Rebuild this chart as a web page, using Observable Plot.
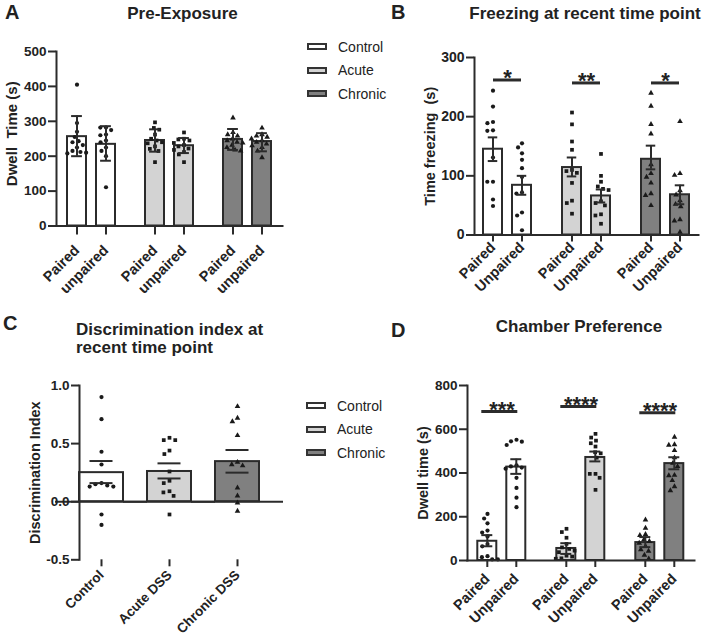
<!DOCTYPE html>
<html>
<head>
<meta charset="utf-8">
<script src="https://cdn.jsdelivr.net/npm/d3@7"></script>
<script src="https://cdn.jsdelivr.net/npm/@observablehq/plot@0.6"></script>
<style>
  body { margin: 0; background: #fff; font-family: "Liberation Sans", Arial, sans-serif; color: #222; }
  #fig { position: relative; width: 705px; height: 637px; overflow: hidden; }
  .panel { position: absolute; }
  .letter { position: absolute; font-weight: bold; font-size: 20px; line-height: 1; }
  .title { position: absolute; font-weight: bold; font-size: 17px; line-height: 1; white-space: nowrap; }
  .legend { position: absolute; font-size: 14px; }
  .legend .row { display: flex; align-items: center; height: 23.5px; }
  .legend .sw { width: 16px; height: 3px; border: 2px solid #333; margin-right: 11px; }
</style>
</head>
<body>
<div id="fig"></div>
<script>
// groups shared by all panels
const groups = ["Control", "Acute", "Chronic"];
const fills = ["#ffffff", "#d3d3d3", "#808080"];
const symbols = ["circle", "square", "triangle"];

// A: Pre-Exposure, mean ± SD (order: Control P/U, Acute P/U, Chronic P/U)
const condA = ["Paired", "unpaired"];
const ticksA = [0, 100, 200, 300, 400, 500];
const meanA = [256, 234, 245, 230, 248, 242];
const loA = [200, 187, 213, 209, 218, 214];
const hiA = [315, 286, 277, 252, 278, 266];
const ptsA = [
  [405, 295, 270, 255, 243, 240, 232, 225, 215, 212, 210, 208],
  [282, 282, 275, 262, 260, 245, 240, 225, 215, 200, 111],
  [297, 281, 276, 262, 250, 245, 240, 237, 228, 221, 215, 183],
  [268, 250, 248, 245, 238, 232, 228, 222, 218, 212, 205, 183],
  [310, 268, 262, 258, 250, 245, 240, 238, 232, 225, 218, 215],
  [281, 262, 258, 255, 250, 245, 240, 235, 230, 225, 215, 196]
];

// B: Freezing at recent time point, mean ± SEM
const condB = ["Paired", "Unpaired"];
const ticksB = [0, 100, 200, 300];
const meanB = [145, 84, 114, 66, 128, 68];
const loB = [125, 68, 99, 55, 111, 52];
const hiB = [165, 100, 131, 77, 151, 84];
const ptsB = [
  [244, 217, 191, 189, 177, 176, 131, 90, 90, 60, 49],
  [155, 148, 138, 127, 113, 98, 72, 70, 38, 33, 8],
  [207, 187, 158, 144, 110, 108, 105, 88, 58, 54, 36],
  [137, 100, 90, 82, 78, 76, 57, 54, 50, 35, 33, 19],
  [240, 218, 187, 171, 119, 104, 98, 88, 70, 67, 50],
  [192, 104, 101, 75, 68, 58, 52, 48, 26, 24, 5]
];
const sigB = ["*", "**", "*"];
const sigYB = [262, 257, 257];

// C: Discrimination index, mean ± SEM
const groupsC = ["Control", "Acute DSS", "Chronic DSS"];
const ticksC = [-0.5, 0, 0.5, 1];
const meanC = [0.25, 0.26, 0.345];
const loC = [0.16, 0.2, 0.25];
const hiC = [0.35, 0.33, 0.445];
const ptsC = [
  [0.9, 0.71, 0.43, 0.32, 0.16, 0.15, 0.14, 0.13, 0.13, -0.11, -0.2],
  [0.55, 0.53, 0.53, 0.44, 0.41, 0.26, 0.18, 0.16, 0.09, 0.08, 0.05, -0.11],
  [0.82, 0.72, 0.69, 0.57, 0.34, 0.32, 0.31, 0.12, 0.05, -0.01, -0.08]
];

// D: Chamber Preference, mean ± SEM
const condD = ["Paired", "Unpaired"];
const ticksD = [0, 200, 400, 600, 800];
const meanD = [88, 427, 55, 471, 82, 443];
const loD = [65, 396, 30, 453, 61, 417];
const hiD = [116, 463, 79, 498, 107, 472];
const ptsD = [
  [213, 192, 170, 137, 128, 110, 75, 65, 20, 15, 5, 5],
  [552, 545, 543, 528, 435, 430, 425, 420, 378, 332, 287, 244],
  [145, 130, 104, 76, 60, 53, 45, 38, 22, 18, 10, 8],
  [579, 562, 548, 536, 521, 495, 490, 470, 396, 396, 378, 323],
  [186, 148, 120, 115, 95, 88, 80, 65, 50, 43, 25, 8],
  [564, 530, 528, 503, 470, 445, 430, 390, 388, 366, 338, 320]
];
const sigD = ["***", "****", "****"];
const sigYD = [681, 704, 675];

const fig = document.getElementById("fig");
const axisColor = "#2b2b2b";
const dotColor = "#1a1a1a";
const ink = {stroke: axisColor, strokeWidth: 2};
const baseStyle = {fontFamily: "'Liberation Sans', Arial, sans-serif", fontSize: "13.5px", fontWeight: "bold", color: "#222", background: "none", overflow: "visible"};

function place(el, left, top) {
  const div = document.createElement("div");
  div.className = "panel";
  div.style.left = left + "px";
  div.style.top = top + "px";
  div.append(el);
  fig.append(div);
}

function addText(cls, text, left, top, center) {
  const div = document.createElement("div");
  div.className = cls;
  div.innerHTML = text;
  div.style.left = left + "px";
  div.style.top = top + "px";
  if (center) div.style.transform = "translateX(-50%)";
  fig.append(div);
}

function legend(left, top) {
  const box = document.createElement("div");
  box.className = "legend";
  box.style.left = left + "px";
  box.style.top = top + "px";
  groups.forEach((g, i) => {
    const row = document.createElement("div");
    row.className = "row";
    const sw = document.createElement("div");
    sw.className = "sw";
    sw.style.background = fills[i];
    row.append(sw, g);
    box.append(row);
  });
  fig.append(box);
}

// grouped Paired / Unpaired panel (A, B, D)
function pairedPanel(o) {
  const bars = [], pts = [];
  groups.forEach((g, gi) => o.cond.forEach((c, ci) => {
    const k = gi * 2 + ci;
    bars.push({group: g, cond: c, mean: o.mean[k], lo: o.lo[k], hi: o.hi[k]});
    for (const v of o.pts[k]) pts.push({group: g, cond: c, value: v});
  }));
  const sig = o.sig ? groups.map((g, i) => ({group: g, y: o.sigY[i], text: o.sig[i]})) : [];
  const build = (dxs) => Plot.plot({
    width: o.width, height: o.height,
    marginLeft: o.margins[0], marginRight: o.margins[1], marginTop: o.margins[2], marginBottom: o.margins[3],
    style: baseStyle,
    fx: {domain: groups, paddingInner: o.fxPad, paddingOuter: 0, axis: null},
    x: {domain: o.cond, paddingInner: o.xPad[0], paddingOuter: o.xPad[1]},
    y: {domain: [0, d3.max(o.ticks)]},
    color: {domain: groups, range: fills},
    symbol: {domain: groups, range: symbols},
    marks: [
      Plot.barY(bars, {fx: "group", x: "cond", y: "mean", fill: "group", ...ink}),
      ...o.cond.map((c, ci) => Plot.dot(pts.filter(d => d.cond === c),
        Plot.dodgeX({anchor: "middle", padding: 1.5},
          {fx: "group", y: "value", symbol: "group", r: 2.1, fill: dotColor, dx: dxs[ci]}))),
      Plot.ruleX(bars, {fx: "group", x: "cond", y1: "lo", y2: "hi", ...ink}),
      Plot.tickY(bars, {fx: "group", x: "cond", y: "lo", insetLeft: o.cap, insetRight: o.cap, ...ink}),
      Plot.tickY(bars, {fx: "group", x: "cond", y: "hi", insetLeft: o.cap, insetRight: o.cap, ...ink}),
      Plot.ruleY(sig, {fx: "group", y: "y", x1: () => o.cond[0], x2: () => o.cond[1],
        insetLeft: o.sigInset?.[0], insetRight: o.sigInset?.[1], stroke: axisColor, strokeWidth: 3}),
      Plot.text(sig, {fx: "group", y: "y", text: "text", fontSize: 22, lineAnchor: "bottom", dy: 5}),
      Plot.axisY({ticks: o.ticks, tickSize: 8, tickPadding: 2, fontSize: o.yFont, ...ink, label: null}),
      Plot.axisX({tickRotate: -45, tickSize: o.xTick[0], tickPadding: o.xTick[1], fontSize: 14.5, ...ink, label: null}),
      Plot.frame({anchor: "left", facet: "super", ...ink}),
      Plot.frame({anchor: "bottom", facet: "super", ...ink}),
      Plot.text([o.label], {text: d => d, facet: "super", frameAnchor: "left", rotate: -90, dx: -50, dy: o.labelDy || 0,
        textAnchor: "middle", lineAnchor: "top", fontSize: o.labelSize})
    ]
  });
  // first pass reads the band geometry, second pass centres the dot swarms on their bars
  const xs = build([0, 0]).scale("x");
  const step = xs.apply(o.cond[1]) - xs.apply(o.cond[0]);
  const half = xs.bandwidth / 2;
  return build([-step / 2 - half, step / 2 - half]);
}

function panelC() {
  const bars = groupsC.map((g, i) => ({group: g, mean: meanC[i], lo: loC[i], hi: hiC[i]}));
  const pts = groupsC.flatMap((g, i) => ptsC[i].map(v => ({group: g, value: v})));
  return Plot.plot({
    width: 360, height: 327, marginLeft: 55, marginRight: 77, marginTop: 75, marginBottom: 77.7,
    style: baseStyle,
    fx: {domain: groupsC, paddingInner: 0.356, paddingOuter: 0.346},
    y: {domain: [-0.5, 1]},
    color: {domain: groupsC, range: fills},
    symbol: {domain: groupsC, range: symbols},
    marks: [
      Plot.barY(bars, {fx: "group", y: "mean", fill: "group", ...ink}),
      Plot.ruleY([0], {insetLeft: -24, insetRight: -24, ...ink}),
      Plot.dot(pts, Plot.dodgeX({anchor: "middle", padding: 2},
        {fx: "group", y: "value", symbol: "group", r: 2.1, fill: dotColor})),
      Plot.ruleX(bars, {fx: "group", y1: "lo", y2: "hi", ...ink}),
      Plot.tickY(bars, {fx: "group", y: "lo", insetLeft: 10.5, insetRight: 10.5, ...ink}),
      Plot.tickY(bars, {fx: "group", y: "hi", insetLeft: 10.5, insetRight: 10.5, ...ink}),
      Plot.axisY({ticks: ticksC, tickFormat: d => d.toFixed(1), tickSize: 8, tickPadding: 2, fontSize: 13.5, ...ink, label: null}),
      Plot.axisFx({anchor: "bottom", tickRotate: -45, tickSize: 7, tickPadding: 6, fontSize: 13.5, ...ink, label: null}),
      Plot.frame({anchor: "left", facet: "super", ...ink}),
      Plot.text(["Discrimination Index"], {text: d => d, facet: "super", frameAnchor: "left", rotate: -90, dx: -50,
        textAnchor: "middle", lineAnchor: "top", fontSize: 14.5})
    ]
  });
}

place(pairedPanel({
  cond: condA, mean: meanA, lo: loA, hi: hiA, pts: ptsA, ticks: ticksA,
  width: 300, height: 300, margins: [55, 17, 51, 74.5],
  fxPad: 0.106, xPad: [0.344, 0.371], cap: 4.1, xTick: [9, 13], yFont: 13.5,
  label: "Dwell\u00a0 Time (s)", labelSize: 15, labelDy: -5
}), 0, 0);

place(pairedPanel({
  cond: condB, mean: meanB, lo: loB, hi: hiB, pts: ptsB, ticks: ticksB, sig: sigB, sigY: sigYB, sigInset: [10, 10],
  width: 335, height: 300, margins: [103, 7, 57, 65.5],
  fxPad: 0.17, xPad: [0.35, 0.275], cap: 4.75, xTick: [7, 3], yFont: 14,
  label: "Time freezing\u00a0 (s)", labelSize: 14.5
}), 370, 0);

place(panelC(), 0, 310);

place(pairedPanel({
  cond: condD, mean: meanD, lo: loD, hi: hiD, pts: ptsD, ticks: ticksD, sig: sigD, sigY: sigYD, sigInset: [4, 8],
  width: 335, height: 327, margins: [96.7, 10, 75, 77],
  fxPad: 0.121, xPad: [0.333, 0.328], cap: 4, xTick: [7, 9], yFont: 13.5,
  label: "Dwell time (s)", labelSize: 14.5
}), 370, 310);

legend(307, 35);
legend(306, 394);

addText("letter", "A", 5, 2);
addText("letter", "B", 391, 1.5);
addText("letter", "C", 3, 313);
addText("letter", "D", 391, 320);
addText("title", "Pre-Exposure", 182.5, 4.6, true);
addText("title", "Freezing at recent time point", 585, 4.6, true);
addText("title", "Discrimination index at<br>recent time point", 76, 320.6);
addText("title", "Chamber Preference", 579, 318.3, true);
document.querySelectorAll(".title br").forEach(b => b.parentNode.style.lineHeight = "18.3px");
</script>
</body>
</html>
